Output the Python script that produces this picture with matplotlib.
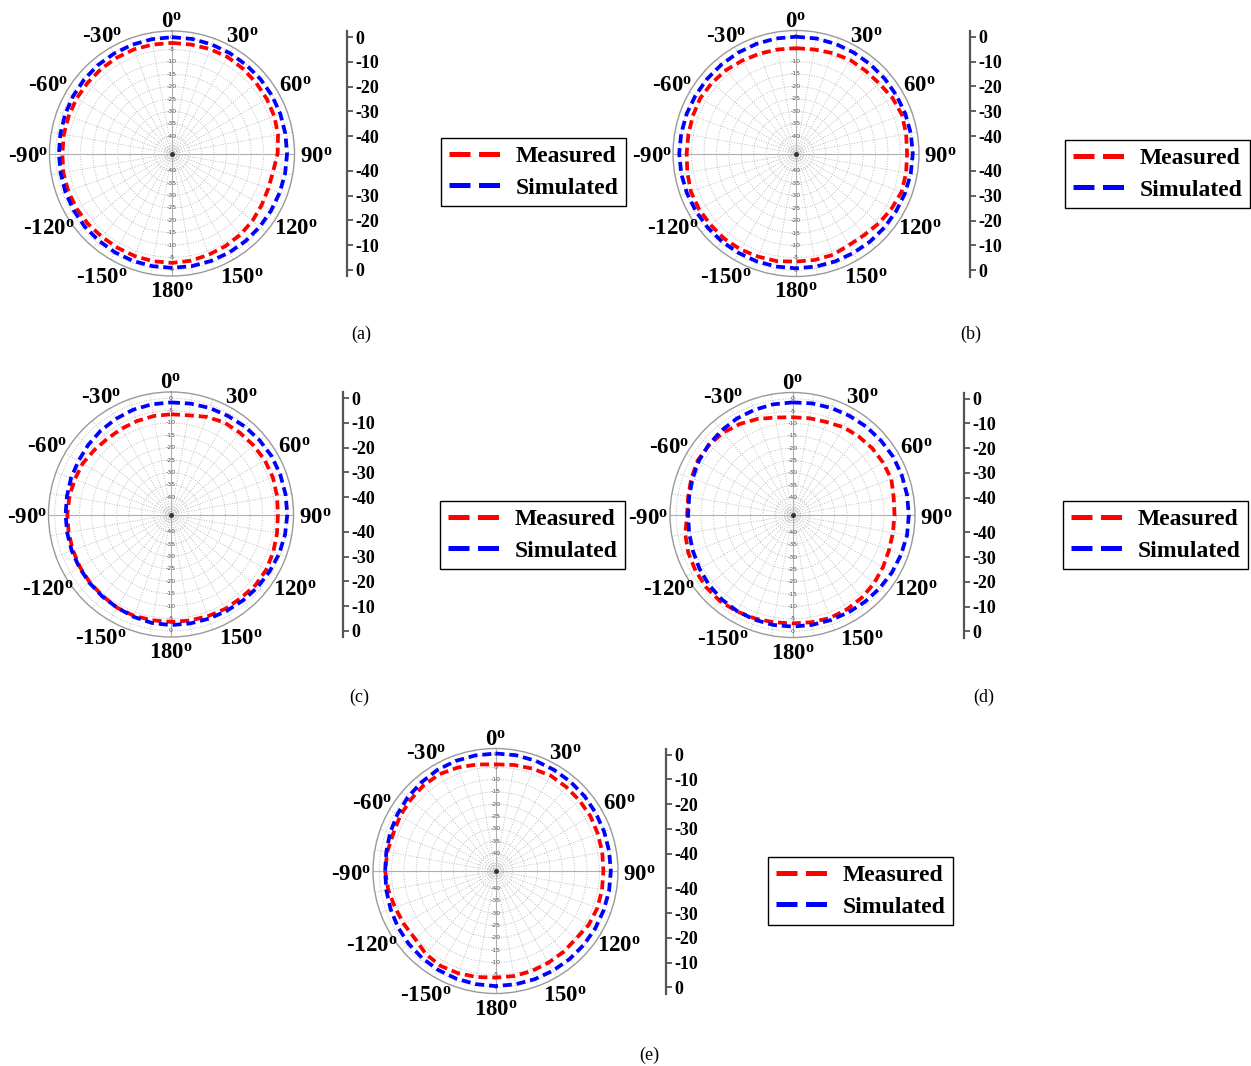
import numpy as np
import matplotlib
matplotlib.use('Agg')
import matplotlib.pyplot as plt
from matplotlib.lines import Line2D

plt.rcParams['font.family'] = 'Liberation Serif'
plt.rcParams['mathtext.fontset'] = 'custom'
plt.rcParams['mathtext.rm'] = 'Liberation Serif:bold'
plt.rcParams['mathtext.it'] = 'Liberation Serif:bold'
plt.rcParams['mathtext.bf'] = 'Liberation Serif:bold'

# angles in degrees, clockwise from the top
ANGLES = [0, 10, 20, 30, 40, 50, 60, 70, 80, 90, 100, 110, 120, 130, 140, 150, 160, 170,
          180, -170, -160, -150, -140, -130, -120, -110, -100, -90, -80, -70, -60, -50, -40, -30, -20, -10]
THETA_LABELS = [0, 30, 60, 90, 120, 150, 180, -150, -120, -90, -60, -30]
RING_LABELS = [0, -5, -10, -15, -20, -25, -30, -35, -40]
SCALE_TICKS = [0, -10, -20, -30, -40]
R_MIN, R_MAX = -47, 2.5

a_measured = [-2.3, -2.3, -2.1, -2.0, -2.3, -2.6, -2.8, -3.0, -3.5, -4.3, -5.5, -5.6, -5.2, -4.6, -4.1, -3.8, -3.5, -3.0,
              -2.8, -2.8, -2.9, -3.0, -3.0, -2.7, -2.5, -2.4, -2.4, -2.7, -2.6, -2.6, -2.5, -2.5, -2.4, -2.3, -2.2, -2.3]
a_simulated = [0.0, 0.0, -0.1, -0.2, -0.3, -0.3, -0.3, -0.4, -0.5, -0.5, -0.6, -0.7, -0.8, -0.8, -0.8, -0.8, -0.8, -0.8,
               -0.8, -0.8, -0.8, -0.9, -1.0, -1.0, -1.1, -1.2, -1.3, -1.3, -1.2, -1.0, -0.8, -0.6, -0.4, -0.3, -0.2, -0.1]

b_measured = [-4.6, -4.5, -4.0, -3.5, -3.5, -3.2, -2.2, -1.6, -2.0, -2.3, -2.0, -1.8, -2.6, -3.4, -4.2, -4.4, -3.6, -3.5,
              -3.5, -3.0, -2.8, -2.4, -2.2, -2.2, -2.0, -2.0, -2.6, -3.0, -3.0, -2.8, -2.5, -2.8, -3.2, -3.8, -4.2, -4.5]
b_simulated = [0.0, 0.0, -0.1, -0.2, -0.3, -0.3, -0.3, -0.2, -0.1, 0.0, -0.1, -0.3, -0.5, -0.6, -0.7, -0.8, -0.8, -0.8,
               -0.8, -0.8, -0.8, -0.8, -0.7, -0.6, -0.5, -0.3, -0.1, 0.0, -0.1, -0.2, -0.3, -0.3, -0.3, -0.2, -0.1, 0.0]

c_measured = [-6.5, -6.3, -5.0, -4.0, -3.8, -3.5, -3.2, -3.2, -3.5, -3.8, -3.5, -3.0, -2.5, -2.5, -3.0, -3.0, -3.3, -3.5,
              -3.6, -3.6, -3.4, -3.5, -4.0, -4.2, -4.5, -4.8, -5.0, -5.1, -5.3, -5.6, -5.8, -6.5, -7.0, -7.0, -6.8, -6.6]
c_simulated = [-1.7, -1.5, -1.2, -1.0, -0.6, -0.3, 0.0, 0.0, 0.0, 0.0, -0.2, -0.5, -1.0, -1.3, -1.7, -2.0, -2.2, -2.3,
               -2.3, -2.5, -3.0, -3.5, -3.8, -4.0, -4.2, -4.3, -4.4, -4.4, -4.3, -4.0, -3.8, -3.3, -2.8, -2.4, -2.0, -1.8]

d_measured = [-7.5, -7.3, -7.0, -6.0, -5.5, -5.0, -4.7, -4.5, -5.5, -5.8, -5.8, -5.5, -4.8, -4.0, -3.4, -3.0, -2.7, -3.0,
              -3.2, -3.0, -2.5, -2.0, -1.5, -1.5, -1.8, -2.2, -3.0, -4.4, -4.2, -3.5, -2.8, -3.0, -3.5, -4.5, -5.7, -7.0]
d_simulated = [-1.5, -1.2, -1.0, -0.8, -0.5, -0.3, 0.0, 0.0, 0.0, 0.0, 0.0, -0.3, -0.6, -1.0, -1.3, -1.6, -1.8, -1.9,
               -1.9, -1.9, -2.0, -2.2, -2.5, -3.0, -3.6, -4.2, -4.6, -4.8, -4.6, -4.0, -3.3, -2.8, -2.4, -2.0, -1.8, -1.6]

e_measured = [-3.9, -3.5, -3.0, -2.5, -2.6, -2.7, -2.7, -3.0, -3.2, -3.4, -3.3, -3.2, -3.5, -4.5, -4.3, -4.2, -4.0, -3.9,
              -3.9, -3.5, -3.0, -2.7, -3.2, -4.5, -4.2, -3.8, -3.0, -2.4, -2.6, -3.0, -2.5, -2.2, -1.8, -1.8, -2.5, -3.3]
e_simulated = [0.5, 0.5, 0.4, 0.2, 0.1, 0.0, -0.2, -0.3, -0.4, -0.4, -0.4, -0.5, -0.5, -0.5, -0.5, -0.5, -0.5, -0.5,
               -0.5, -0.6, -0.7, -0.8, -1.0, -1.2, -1.5, -1.9, -2.2, -2.4, -2.2, -1.7, -1.2, -0.7, -0.3, 0.1, 0.3, 0.4]

RED = '#ff0000'
BLUE = '#0000ff'

W, H = 1251, 1066
fig = plt.figure(figsize=(W / 100, H / 100), dpi=100)

# layout in pixels: polar centre, radius, scale-line x, legend top-left, caption
panels = [
    dict(meas=a_measured, sim=a_simulated, cx=172, cy=153.5, r=122.5, sx=347, lg=(441, 138), cap=(361, 334), tag='(a)'),
    dict(meas=b_measured, sim=b_simulated, cx=796, cy=153.5, r=123, sx=970, lg=(1065, 140), cap=(971, 334), tag='(b)'),
    dict(meas=c_measured, sim=c_simulated, cx=171, cy=514.5, r=122.5, sx=343, lg=(440, 501), cap=(359, 697), tag='(c)'),
    dict(meas=d_measured, sim=d_simulated, cx=792.5, cy=515, r=122.5, sx=964, lg=(1063, 501), cap=(984, 697), tag='(d)'),
    dict(meas=e_measured, sim=e_simulated, cx=495.5, cy=871, r=122.5, sx=666, lg=(768, 857), cap=(649, 1055), tag='(e)'),
]

grid_deg = np.arange(0, 360, 10)
theta = np.radians(ANGLES + [ANGLES[0]])
span = R_MAX - R_MIN

for p in panels:
    cx, cy, r = p['cx'], p['cy'], p['r']
    ax = fig.add_axes([(cx - r) / W, 1 - (cy + r) / H, 2 * r / W, 2 * r / H], projection='polar')
    ax.set_theta_zero_location('N')
    ax.set_theta_direction(-1)

    # axis cross lines
    for t in [0, 90, 180, 270]:
        ax.plot([np.radians(t)] * 2, [R_MIN, R_MAX], color='#a8a8a8', lw=0.8, zorder=1)

    ax.plot(theta, p['meas'] + [p['meas'][0]], color=RED, lw=2.7, dashes=(2.4, 1.3), zorder=3)
    ax.plot(theta, p['sim'] + [p['sim'][0]], color=BLUE, lw=2.7, dashes=(2.4, 1.3), zorder=4)

    ax.set_ylim(R_MIN, R_MAX)
    ax.set_thetagrids(grid_deg, [''] * len(grid_deg))
    ax.set_yticks([-46, -45, -44] + RING_LABELS)
    ax.set_yticklabels([])
    ax.grid(True, color='#bdbdbd', linestyle=':', linewidth=0.7)
    ax.spines['polar'].set_color('#9a9a9a')
    ax.spines['polar'].set_linewidth(1.0)
    ax.plot([0], [R_MIN], 'o', color='#333333', ms=2.5, zorder=5)

    # angle labels outside the circle
    for a in THETA_LABELS:
        t = np.radians(a)
        dist_px = 135 + 9 * abs(np.sin(t))
        rr = R_MIN + dist_px / r * span
        ax.annotate(f"{a}$^{{\\mathrm{{o}}}}$", xy=(t, rr), xytext=(0, -3), textcoords='offset points',
                    fontsize=16.5, fontweight='bold', ha='center', va='center', annotation_clip=False)

    for v in RING_LABELS:
        for t in (0, np.pi):
            ax.text(t, v, str(v), fontsize=4.5, ha='center', va='center', color='#555555',
                    family='DejaVu Sans', zorder=2)

    # linear dB scale beside the polar plot
    sax = fig.add_axes([(p['sx'] - 8) / W, 1 - (cy + r) / H, 8 / W, 2 * r / H])
    sax.set_ylim(-span, span)
    pos = [v - R_MIN for v in SCALE_TICKS] + [-(v - R_MIN) for v in SCALE_TICKS]
    sax.set_yticks(pos)
    sax.set_yticklabels([str(v) for v in SCALE_TICKS] * 2)
    sax.yaxis.tick_right()
    sax.set_xticks([])
    for s in ['left', 'top', 'bottom']:
        sax.spines[s].set_visible(False)
    sax.spines['right'].set_color('#555555')
    sax.spines['right'].set_linewidth(1.6)
    sax.patch.set_alpha(0)
    sax.tick_params(axis='y', direction='out', length=4, width=1.3, color='#555555', labelsize=13, pad=2)
    for lbl in sax.get_yticklabels():
        lbl.set_fontweight('bold')

    handles = [Line2D([], [], color=RED, lw=3.6, dashes=(4.2, 1.7)),
               Line2D([], [], color=BLUE, lw=3.6, dashes=(4.2, 1.7))]
    lx, ly = p['lg']
    leg = fig.legend(handles, ['Measured', 'Simulated'], loc='upper left',
                     bbox_to_anchor=(lx / W, 1 - ly / H), borderaxespad=0,
                     prop={'weight': 'bold', 'size': 17, 'family': 'Liberation Serif'},
                     frameon=True, fancybox=False, edgecolor='black', framealpha=1,
                     handlelength=2.25, handletextpad=0.6, labelspacing=0.42, borderpad=0.32)
    leg.get_frame().set_linewidth(1.0)

    fig.text(p['cap'][0] / W, 1 - p['cap'][1] / H, p['tag'], ha='center', va='center', fontsize=13)

fig.savefig('out.png', dpi=100)
